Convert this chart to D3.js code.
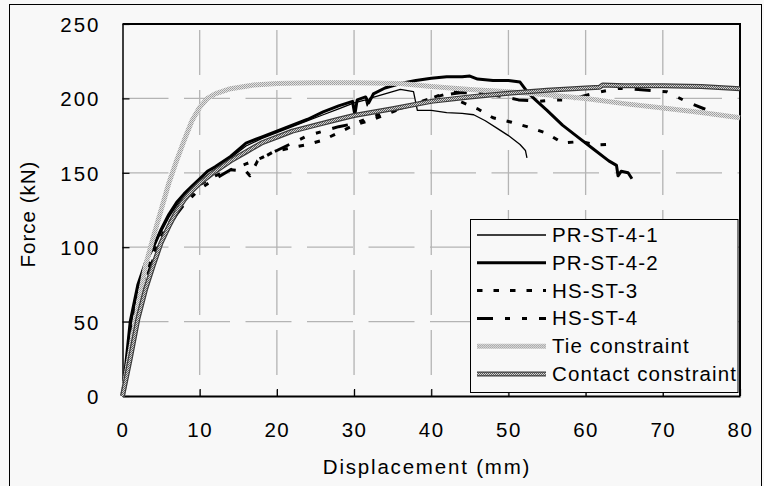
<!DOCTYPE html>
<meta charset="utf-8">
<style>
    html, body {
        margin: 0;
        padding: 0;
        background: #f8f8f8;
    }
    svg text {
        font-family: "Liberation Sans", Arial, sans-serif;
        font-size: 20.5px;
        fill: #000;
    }
</style>
<svg id="chart" width="764" height="486"></svg>
<script src="https://d3js.org/d3.v7.min.js"></script>
<script>
    // force-displacement curves, [displacement mm, force kN]
    const prSt41 = [[0,0],[1,45],[2,72],[3,88],[4,100],[5,110],[6,120],[7,128],[8,134],[9,139],[10,144],[11,148],[12,152],
        [14,160],[16,168],[18,173],[20,177],[22,181],[24,185],[26,189],[28,193],[30,197],[31.5,199],[31.7,195],[32,200],
        [34,203],[36,206],[37.7,204.5],[38.2,192],[40,192],[42,190.5],[44,190],[45.5,189],[47,185],[48.5,180],[50,175],
        [51.5,169],[52.2,165],[52.4,160]];
    const prSt42 = [[0,0],[1,50],[2,75],[3,90],[4,100],[5,112],[6,122],[7,130],[8,136],[9,141],[10,146],[11,151],[12,154],
        [14,161],[16,170],[18,174],[20,178],[22,182],[24,186],[26,191],[28,195],[29.8,198],[30.1,189],[30.4,199],[31.5,201],
        [31.9,197],[32.5,203],[34,207],[36,210],[38,212],[40,213.5],[42,214.5],[44,214.5],[45,215],[46,213],[48,212],[50,212],
        [51.5,211],[52.5,204],[53.5,199],[55,192],[57,182],[59,174],[61,166],[63,158],[64,155],[64.2,148],[64.6,151],
        [65.5,150],[66,146]];
    const hsSt3 = [[0,0],[1,40],[2,65],[3,82],[4,96],[5,107],[6,116],[7,124],[8,131],[9,137],[10,142],[12,148],[14,152],
        [16,151],[16.5,148],[17.5,158],[19.5,164],[22,167],[24,169],[26,172],[28,177],[30,182],[32.5,186],[35,191],
        [37.5,196],[40,200],[42,203],[43.5,205],[43.7,198],[46,193],[48,187],[50.4,184],[52.4,181],[55,176.5],[57,170],
        [59.3,171],[61.6,168.7],[64,169.4]];
    const hsSt4 = [[0,0],[1,35],[2,60],[3,78],[4,92],[5,104],[6,114],[7,122],[8,129],[9,134],[10,139],[12,146],[14,152],
        [16,156],[18,160],[20,165],[22,170],[24,175],[26,178],[28,181],[30,183],[32,187],[35,192],[38,196],[41,202],
        [44,204],[47,203],[49.5,201],[51.3,199],[54,198],[56,199],[58,199],[60,202],[62,204.5],[64.4,206.8],[66.8,206],
        [70.5,204.5],[73,198],[75.5,192.7]];
    const tieFe = [[0,0],[1,30],[2,60],[3,88],[4,107],[5,125],[6,143],[7,158],[8,172],[9,185],[10,194],[11,200],[12,203],
        [14,206.5],[17,209],[20,210],[25,210.5],[30,210.5],[36,210],[40,208],[45,206],[50,204.5],[55,202.5],[60,200],
        [65,196.5],[70,193.5],[75,190.5],[80,187]];
    const contactFe = [[0,0],[1,25],[2,52],[3,72],[4,88],[5,103],[6,114],[7,124],[8,132],[9,138],[10,143],[12,151],
        [14,158],[16,164],[18,170],[20,174],[22,178],[25,182],[28,186],[30,188.5],[35,193],[40,198],[45,201],[50,203.5],
        [55,205.5],[60,207],[61.8,207.5],[62.2,209],[65,208.5],[70,208.5],[75,208],[80,206.5]];

    const seriesNames = ["PR-ST-4-1", "PR-ST-4-2", "HS-ST-3", "HS-ST-4", "Tie constraint", "Contact constraint"];
    const xTicks = [0, 10, 20, 30, 40, 50, 60, 70, 80];
    const yTicks = [0, 50, 100, 150, 200, 250];

    const svg = d3.select("#chart");

    // textures for the two FE bands
    const defs = svg.append("defs");
    let tiePat = defs.append("pattern").attr("id", "tieTex")
        .attr("patternUnits", "userSpaceOnUse").attr("width", 2).attr("height", 2);
    tiePat.append("rect").attr("width", 2).attr("height", 2).attr("fill", "#e2e2e2");
    tiePat.append("rect").attr("width", 1).attr("height", 1).attr("fill", "#9c9c9c");
    tiePat.append("rect").attr("x", 1).attr("y", 1).attr("width", 1).attr("height", 1).attr("fill", "#a8a8a8");
    let conPat = defs.append("pattern").attr("id", "conTex")
        .attr("patternUnits", "userSpaceOnUse").attr("width", 2).attr("height", 2);
    conPat.append("rect").attr("width", 2).attr("height", 2).attr("fill", "#d4d4d4");
    conPat.append("rect").attr("width", 1).attr("height", 1).attr("fill", "#555");
    conPat.append("rect").attr("x", 1).attr("y", 1).attr("width", 1).attr("height", 1).attr("fill", "#666");

    // outer chart frame
    svg.append("rect")
        .attr("x", 9.5).attr("y", 4.5).attr("width", 752).attr("height", 495)
        .attr("fill", "#f8f8f8").attr("stroke", "#000").attr("stroke-width", 1);

    const x = d3.scaleLinear().domain([0, 80]).range([122.5, 740]);
    const y = d3.scaleLinear().domain([0, 250]).range([396, 24]);

    // grid (long dashes, like the original)
    svg.append("g").selectAll("line")
        .data(yTicks.filter(d => d > 0 && d < 250))
        .join("line")
        .attr("x1", x(0)).attr("x2", x(80))
        .attr("y1", d => y(d)).attr("y2", d => y(d))
        .attr("stroke", "#b4b4b4").attr("stroke-width", 1.3)
        .attr("stroke-dasharray", "46,15.5");
    svg.append("g").selectAll("line")
        .data(xTicks.filter(d => d > 0 && d < 80))
        .join("line")
        .attr("x1", d => x(d)).attr("x2", d => x(d))
        .attr("y1", y(250)).attr("y2", y(0))
        .attr("stroke", "#b4b4b4").attr("stroke-width", 1.3)
        .attr("stroke-dasharray", "45,15").attr("stroke-dashoffset", 54);

    // axes, ticks pointing inward
    let xAxis = svg.append("g")
        .attr("transform", `translate(0,${y(0)})`)
        .call(d3.axisBottom(x).tickValues(xTicks).tickSizeInner(-7).tickSizeOuter(0).tickPadding(0));
    xAxis.select(".domain").attr("stroke-width", 2);
    xAxis.selectAll(".tick line").attr("stroke-width", 1.2);
    xAxis.selectAll("text").attr("y", 41).attr("dy", 0)
        .style("font-size", "20.5px").style("letter-spacing", "1.5px").attr("fill", "#000");

    let yAxis = svg.append("g")
        .attr("transform", `translate(${x(0)},0)`)
        .call(d3.axisLeft(y).tickValues(yTicks).tickSizeInner(-7).tickSizeOuter(0).tickPadding(22));
    yAxis.select(".domain").attr("stroke-width", 1.5);
    yAxis.selectAll(".tick line").attr("stroke-width", 1.2);
    yAxis.selectAll("text").attr("dy", 7.5)
        .style("font-size", "20.5px").style("letter-spacing", "2px").attr("fill", "#000");

    // top and right edges of the plot area
    svg.append("path")
        .attr("d", `M${x(0)},${y(250)}H${x(80)}V${y(0)}`)
        .attr("fill", "none").attr("stroke", "#000").attr("stroke-width", 2);

    // axis titles
    svg.append("text")
        .attr("x", 427).attr("y", 474)
        .attr("text-anchor", "middle")
        .style("letter-spacing", "1.8px")
        .text("Displacement (mm)");
    svg.append("text")
        .attr("transform", "translate(35,214) rotate(-90)")
        .attr("text-anchor", "middle")
        .style("letter-spacing", "1px")
        .text("Force (kN)");

    // series styles
    const styles = [
        {data: prSt41, layers: [{stroke: "#000", width: 1.3}]},
        {data: prSt42, layers: [{stroke: "#000", width: 3}]},
        {data: hsSt3, layers: [{stroke: "#000", width: 3, dash: "5.5,11"}]},
        {data: hsSt4, layers: [{stroke: "#000", width: 3, dash: "16,12,5,12,5,12"}]},
        {data: tieFe, layers: [{stroke: "url(#tieTex)", width: 5}]},
        {data: contactFe, layers: [{stroke: "#3c3c3c", width: 5}, {stroke: "url(#conTex)", width: 2.6}]}
    ];

    const line = d3.line().x(d => x(d[0])).y(d => y(d[1]));

    let plot = svg.append("g");
    styles.forEach(s => {
        s.layers.forEach(l => {
            plot.append("path")
                .datum(s.data)
                .attr("d", line)
                .attr("fill", "none")
                .attr("stroke", l.stroke)
                .attr("stroke-width", l.width)
                .attr("stroke-linejoin", "round")
                .attr("stroke-dasharray", l.dash || null);
        });
    });

    // legend box
    let legend = svg.append("g");
    legend.append("rect")
        .attr("x", 470.5).attr("y", 219.5).attr("width", 267.5).attr("height", 173)
        .attr("fill", "#f8f8f8").attr("stroke", "#000").attr("stroke-width", 1);

    let entry = legend.selectAll("g.entry")
        .data(seriesNames)
        .join("g")
        .attr("class", "entry")
        .attr("transform", (d, i) => `translate(0,${242 + i * 27.8})`);

    entry.each(function (name, i) {
        let g = d3.select(this);
        styles[i].layers.forEach(l => {
            g.append("line")
                .attr("x1", 477).attr("x2", 546)
                .attr("y1", -7).attr("y2", -7)
                .attr("stroke", l.stroke)
                .attr("stroke-width", l.width)
                .attr("stroke-dasharray", l.dash || null);
        });
        g.append("text")
            .attr("x", 552).attr("y", 0)
            .style("letter-spacing", "1.1px")
            .text(name);
    });
</script>
